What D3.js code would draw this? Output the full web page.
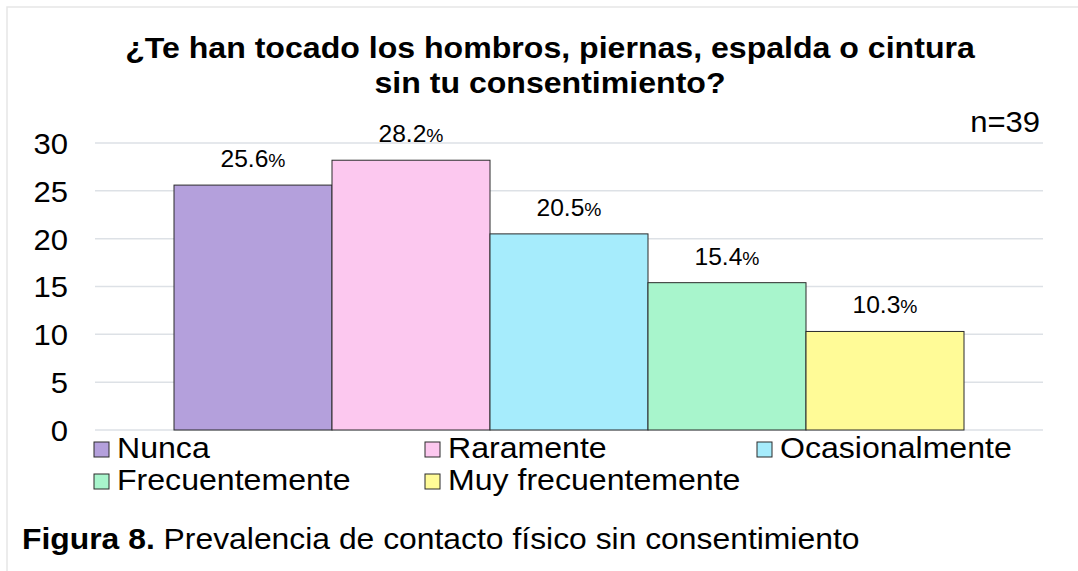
<!DOCTYPE html>
<html><head><meta charset="utf-8">
<script src="https://cdn.jsdelivr.net/npm/d3@7"></script>
<style>html,body{margin:0;padding:0;background:#fff;}svg{display:block;font-family:"Liberation Sans",Arial,sans-serif;}</style>
</head><body>
<svg id="chart" width="1078" height="571"></svg>
<script>
const categories = ["Nunca","Raramente","Ocasionalmente","Frecuentemente","Muy frecuentemente"];
const values = [25.6, 28.2, 20.5, 15.4, 10.3];
const colors = ["#b4a0dc","#fcc8ef","#a6ecfc","#a8f5cc","#fffb97"];
const yTicks = [0,5,10,15,20,25,30];
const titleLines = ["¿Te han tocado los hombros, piernas, espalda o cintura","sin tu consentimiento?"];
const sampleLabel = "n=39";
const captionBold = "Figura 8.";
const captionText = " Prevalencia de contacto físico sin consentimiento";

const svg = d3.select("#chart");
const SX = 1.07; // horizontal text stretch seen in the reference

svg.append("rect").attr("x",7).attr("y",7).attr("width",1100).attr("height",600)
  .attr("fill","#fff").attr("stroke","#e6e6e6").attr("stroke-width",1.5);

const x = d3.scaleBand().domain(categories).range([95,1043]).paddingInner(0).paddingOuter(0.5);
const y = d3.scaleLinear().domain([0,30]).range([430,143]);

function stretched(sel, cx, sx){ sx = sx||SX; return sel.attr("transform",`translate(${cx},0) scale(${sx},1) translate(${-cx},0)`); }

// gridlines
svg.append("g").selectAll("line").data(yTicks).join("line")
  .attr("x1",95).attr("x2",1043).attr("y1",d=>y(d)).attr("y2",d=>y(d))
  .attr("stroke","#dde1e6").attr("stroke-width",1.5);

// y axis labels
const yAxis = d3.axisLeft(y).tickValues(yTicks).tickSize(0).tickPadding(0);
const ga = svg.append("g").attr("transform","translate(68,0)").call(yAxis);
ga.select(".domain").remove();
ga.selectAll("text").attr("font-size",29).attr("fill","#000").attr("font-family","Liberation Sans, Arial, sans-serif")
  .attr("dy","0.36em").each(function(){ stretched(d3.select(this),0); });

// bars
svg.append("g").selectAll("rect").data(values).join("rect")
  .attr("x",(d,i)=>x(categories[i])).attr("width",x.bandwidth())
  .attr("y",d=>y(d)).attr("height",d=>y(0)-y(d))
  .attr("fill",(d,i)=>colors[i]).attr("stroke","#2b2b2b").attr("stroke-width",1);

// data labels
const lbl = svg.append("g").selectAll("text").data(values).join("text")
  .attr("x",(d,i)=>x(categories[i])+x.bandwidth()/2).attr("y",d=>y(d)-18)
  .attr("text-anchor","middle").attr("font-size",23).attr("fill","#000");
lbl.append("tspan").text(d=>d.toFixed(1));
lbl.append("tspan").attr("font-size",18).text("%");
lbl.each(function(d,i){ stretched(d3.select(this), x(categories[i])+x.bandwidth()/2); });

// title
const t = svg.append("text").attr("text-anchor","middle").attr("font-weight","bold").attr("font-size",30).attr("fill","#000");
titleLines.forEach((s,i)=>t.append("tspan").attr("x",550).attr("y",58+i*35).text(s));
stretched(t,550);

// n=39
stretched(svg.append("text").attr("x",1040).attr("y",132).attr("text-anchor","end").attr("font-size",29).text(sampleLabel),1040);

// legend
const legendPos = [[94,442],[425,442],[757,442],[94,474],[425,474]];
const lg = svg.append("g").selectAll("g").data(categories).join("g")
  .attr("transform",(d,i)=>`translate(${legendPos[i][0]},${legendPos[i][1]})`);
lg.append("rect").attr("width",15).attr("height",15).attr("fill",(d,i)=>colors[i]).attr("stroke","#2b2b2b").attr("stroke-width",1);
lg.append("text").attr("x",23).attr("y",16).attr("font-size",30).text(d=>d)
  .each(function(){ stretched(d3.select(this),23); });

// caption
const cap = svg.append("text").attr("x",22).attr("y",549).attr("font-size",30).attr("fill","#000");
cap.append("tspan").attr("font-weight","bold").text(captionBold);
cap.append("tspan").text(captionText);
stretched(cap,22,1.062);
</script>
</body></html>
